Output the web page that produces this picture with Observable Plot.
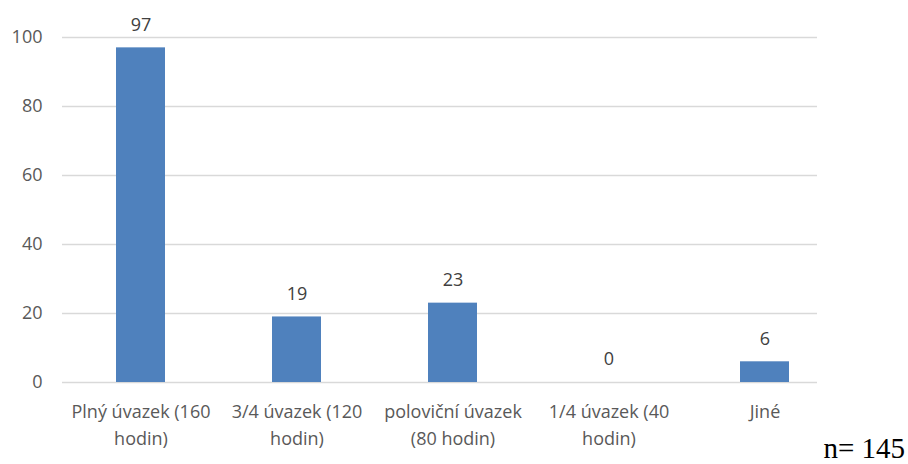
<!DOCTYPE html>
<html>
<head>
<meta charset="utf-8">
<script src="https://cdn.jsdelivr.net/npm/d3@7"></script>
<script src="https://cdn.jsdelivr.net/npm/@observablehq/plot@0.6"></script>
<style>
  html, body { margin: 0; padding: 0; background: #fff; }
  #wrap { position: relative; width: 908px; height: 464px; overflow: hidden; }
  #n { position: absolute; right: 3px; bottom: 1px; font-family: "Liberation Serif", "DejaVu Serif", serif; font-size: 29px; color: #000; line-height: 1.05; }
</style>
</head>
<body>
<div id="wrap"><div id="n">n= 145</div></div>
<script>
const categories = ["Plný úvazek (160 hodin)", "3/4 úvazek (120 hodin)", "poloviční úvazek (80 hodin)", "1/4 úvazek (40 hodin)", "Jiné"];
const values = [97, 19, 23, 0, 6];
const tickLabels = ["Plný úvazek (160\nhodin)", "3/4 úvazek (120\nhodin)", "poloviční úvazek\n(80 hodin)", "1/4 úvazek (40\nhodin)", "Jiné"];
const yTicks = [0, 20, 40, 60, 80, 100];

const data = categories.map((c, i) => ({category: c, value: values[i]}));
const labelOf = new Map(categories.map((c, i) => [c, tickLabels[i]]));

const font = "'Open Sans', 'Noto Sans', sans-serif";
const fs = 18;

const chart = Plot.plot({
  width: 908,
  height: 464,
  marginLeft: 62,
  marginRight: 66,
  marginTop: 37,
  marginBottom: 82,
  style: {fontFamily: font, fontSize: fs + "px", color: "#595959", background: "#fff"},
  x: {domain: categories, paddingInner: 0.686, paddingOuter: 0.343, label: null},
  y: {domain: [0, 100], label: null},
  marks: [
    Plot.ruleY(yTicks, {stroke: "#d9d9d9", strokeWidth: 1.5, insetRight: 25}),
    Plot.barY(data, {x: "category", y: "value", fill: "#4f81bd"}),
    Plot.text(data, {x: "category", y: "value", text: d => String(d.value), dy: -23, fill: "#404040", fontSize: fs}),
    Plot.axisY({ticks: yTicks, tickSize: 0, tickPadding: 20, fontSize: fs, fill: "#595959", label: null}),
    Plot.axisX({tickSize: 0, tickPadding: 16, fontSize: fs, fill: "#595959", lineHeight: 1.5, tickFormat: d => labelOf.get(d), label: null})
  ]
});
document.getElementById("wrap").prepend(chart);
</script>
</body>
</html>
